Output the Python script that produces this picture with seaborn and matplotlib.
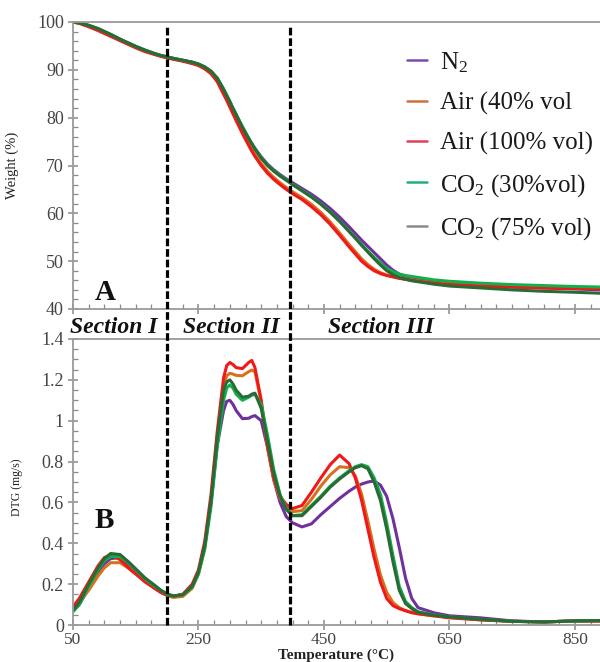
import numpy as np
import pandas as pd
import matplotlib
matplotlib.use("Agg")
import matplotlib.pyplot as plt
import seaborn as sns
from matplotlib.ticker import FixedLocator, MultipleLocator, FuncFormatter

# ---------------- data ----------------
temperature = [50, 60, 75, 90, 100, 110, 125, 140, 150, 165, 180, 190, 200, 210, 225,
               240, 250, 260, 270, 280, 290, 295, 300, 305, 310, 320, 330, 335, 340, 350,
               360, 370, 380, 390, 400, 415, 430, 445, 460, 475, 490, 500, 510, 520, 530,
               540, 550, 560, 570, 580, 590, 600, 625, 650, 700, 750, 800, 850, 890]

series_names = ["N$_2$", "Air (40% vol", "Air (100% vol)", "CO$_2$ (30%vol)", "CO$_2$ (75% vol)"]

weight_n2 = [100.0, 99.8, 99.3, 98.6, 98.0, 97.4, 96.4, 95.5, 94.9, 94.1, 93.4, 93.0, 92.7, 92.4, 92.0,
             91.6, 91.2, 90.6, 89.7, 88.2, 85.9, 84.6, 83.3, 81.9, 80.6, 78.0, 75.7, 74.6, 73.6, 71.8,
             70.3, 69.1, 68.1, 67.2, 66.4, 65.2, 64.0, 62.6, 61.0, 59.2, 57.2, 55.8, 54.4, 53.1, 51.8,
             50.5, 49.2, 48.1, 47.3, 46.8, 46.5, 46.2, 45.7, 45.3, 44.9, 44.6, 44.4, 44.2, 44.0]
weight_air40 = [100.0, 99.8, 99.2, 98.4, 97.8, 97.2, 96.2, 95.3, 94.7, 93.9, 93.3, 92.9, 92.6, 92.3, 91.9,
                91.4, 91.0, 90.3, 89.3, 87.7, 85.2, 83.9, 82.5, 81.1, 79.7, 77.0, 74.5, 73.4, 72.3, 70.4,
                68.8, 67.5, 66.4, 65.4, 64.5, 63.3, 61.9, 60.2, 58.2, 55.9, 53.5, 52.0, 50.5, 49.3, 48.3,
                47.6, 47.1, 46.8, 46.5, 46.3, 46.1, 45.9, 45.5, 45.2, 44.9, 44.7, 44.6, 44.5, 44.4]
weight_air100 = [100.0, 99.7, 99.0, 98.2, 97.6, 97.0, 96.1, 95.2, 94.6, 93.8, 93.2, 92.8, 92.5, 92.2, 91.8,
                 91.3, 90.9, 90.2, 89.2, 87.5, 84.9, 83.6, 82.2, 80.8, 79.4, 76.7, 74.2, 73.0, 71.9, 70.0,
                 68.4, 67.1, 66.0, 65.0, 64.1, 62.9, 61.4, 59.7, 57.7, 55.4, 53.0, 51.5, 50.0, 48.9, 48.0,
                 47.4, 47.0, 46.7, 46.4, 46.2, 46.0, 45.8, 45.4, 45.1, 44.8, 44.6, 44.4, 44.3, 44.2]
weight_co2_30 = [100.0, 99.8, 99.3, 98.6, 98.0, 97.4, 96.4, 95.5, 94.9, 94.1, 93.4, 93.0, 92.7, 92.4, 92.0,
                 91.6, 91.2, 90.6, 89.7, 88.3, 86.0, 84.7, 83.4, 82.0, 80.7, 78.1, 75.7, 74.6, 73.5, 71.6,
                 70.1, 68.9, 67.9, 67.0, 66.1, 64.8, 63.5, 62.0, 60.3, 58.4, 56.3, 54.9, 53.5, 52.1, 50.8,
                 49.6, 48.5, 47.8, 47.3, 47.0, 46.8, 46.6, 46.1, 45.8, 45.4, 45.1, 44.9, 44.7, 44.6]
weight_co2_75 = [100.0, 99.8, 99.3, 98.6, 98.0, 97.4, 96.4, 95.5, 94.9, 94.1, 93.4, 93.0, 92.7, 92.4, 92.0,
                 91.6, 91.2, 90.6, 89.7, 88.2, 85.9, 84.6, 83.3, 81.9, 80.6, 78.0, 75.6, 74.5, 73.4, 71.5,
                 70.0, 68.8, 67.8, 66.9, 66.0, 64.7, 63.4, 61.9, 60.2, 58.3, 56.2, 54.8, 53.3, 51.9, 50.5,
                 49.2, 48.0, 47.2, 46.6, 46.2, 45.9, 45.7, 45.2, 44.8, 44.4, 44.0, 43.7, 43.5, 43.3]

dtg_n2 = [0.07, 0.10, 0.18, 0.26, 0.30, 0.325, 0.33, 0.295, 0.265, 0.22, 0.18, 0.16, 0.145, 0.14, 0.15,
          0.19, 0.26, 0.39, 0.60, 0.88, 1.05, 1.095, 1.10, 1.08, 1.05, 1.01, 1.012, 1.02, 1.025, 1.0,
          0.87, 0.71, 0.60, 0.53, 0.50, 0.48, 0.495, 0.54, 0.58, 0.62, 0.655, 0.675, 0.69, 0.70, 0.705,
          0.685, 0.63, 0.52, 0.38, 0.23, 0.13, 0.085, 0.06, 0.045, 0.035, 0.02, 0.015, 0.02, 0.02]
dtg_air40 = [0.08, 0.11, 0.17, 0.24, 0.28, 0.305, 0.305, 0.275, 0.25, 0.215, 0.18, 0.16, 0.145, 0.135, 0.14,
             0.18, 0.25, 0.38, 0.61, 0.92, 1.17, 1.22, 1.232, 1.228, 1.222, 1.22, 1.24, 1.248, 1.24, 1.09,
             0.87, 0.71, 0.62, 0.575, 0.555, 0.56, 0.615, 0.68, 0.735, 0.775, 0.77, 0.73, 0.64, 0.51, 0.37,
             0.245, 0.16, 0.11, 0.085, 0.07, 0.062, 0.055, 0.045, 0.038, 0.025, 0.018, 0.015, 0.02, 0.02]
dtg_air100 = [0.09, 0.13, 0.21, 0.29, 0.33, 0.343, 0.32, 0.275, 0.25, 0.21, 0.18, 0.16, 0.147, 0.14, 0.15,
              0.20, 0.27, 0.41, 0.64, 0.95, 1.21, 1.27, 1.285, 1.275, 1.26, 1.255, 1.285, 1.295, 1.26, 1.10,
              0.88, 0.72, 0.63, 0.59, 0.57, 0.585, 0.65, 0.72, 0.785, 0.832, 0.79, 0.72, 0.61, 0.47, 0.33,
              0.21, 0.13, 0.095, 0.08, 0.07, 0.06, 0.055, 0.045, 0.035, 0.025, 0.018, 0.015, 0.02, 0.02]
dtg_co2_30 = [0.065, 0.10, 0.19, 0.27, 0.315, 0.335, 0.335, 0.30, 0.27, 0.225, 0.19, 0.17, 0.15, 0.142, 0.148,
              0.185, 0.25, 0.37, 0.58, 0.88, 1.10, 1.16, 1.175, 1.16, 1.13, 1.10, 1.115, 1.125, 1.13, 1.08,
              0.93, 0.76, 0.64, 0.57, 0.535, 0.54, 0.585, 0.63, 0.68, 0.72, 0.755, 0.775, 0.785, 0.775, 0.72,
              0.64, 0.50, 0.34, 0.19, 0.115, 0.085, 0.065, 0.05, 0.04, 0.028, 0.018, 0.015, 0.02, 0.022]
dtg_co2_75 = [0.07, 0.11, 0.20, 0.28, 0.325, 0.35, 0.345, 0.305, 0.275, 0.23, 0.195, 0.17, 0.152, 0.143, 0.148,
              0.19, 0.26, 0.39, 0.61, 0.92, 1.15, 1.19, 1.20, 1.18, 1.15, 1.115, 1.12, 1.13, 1.135, 1.06,
              0.90, 0.74, 0.63, 0.565, 0.535, 0.535, 0.58, 0.625, 0.675, 0.715, 0.75, 0.77, 0.78, 0.765, 0.70,
              0.61, 0.47, 0.31, 0.17, 0.105, 0.08, 0.062, 0.048, 0.04, 0.028, 0.018, 0.015, 0.02, 0.022]

section_bounds = [200, 396]
section_labels = ["Section I", "Section II", "Section III"]
x_major_ticks = [50, 250, 450, 650, 850]

line_colors = ["#7030A0", "#D9701E", "#F01818", "#12B04C", "#2A6A35"]
legend_colors = ["#7A4BA8", "#D0703A", "#E0405A", "#20B080", "#8A8A8A"]

weights = [weight_n2, weight_air40, weight_air100, weight_co2_30, weight_co2_75]
dtgs = [dtg_n2, dtg_air40, dtg_air100, dtg_co2_30, dtg_co2_75]

# ---------------- style ----------------
sns.set_theme(style="white")
plt.rcParams["font.family"] = ["Liberation Serif", "DejaVu Serif"]
plt.rcParams["mathtext.fontset"] = "custom"
plt.rcParams["mathtext.rm"] = "Liberation Serif"
plt.rcParams["mathtext.it"] = "Liberation Serif:italic"
plt.rcParams["mathtext.bf"] = "Liberation Serif:bold"

W, H = 600, 662
fig = plt.figure(figsize=(W / 100, H / 100), dpi=100)
ax1 = fig.add_axes([73 / W, 1 - 309 / H, 527 / W, 287 / H])
ax2 = fig.add_axes([73 / W, 1 - 625 / H, 527 / W, 286 / H])

draw_order = [0, 3, 4, 1, 2]
handles = {}
for i in draw_order:
    sns.lineplot(x=temperature, y=weights[i], ax=ax1, color=line_colors[i], lw=2.2,
                 estimator=None, legend=False, zorder=2 + i * 0.1)
    handles[i] = ax1.lines[-1]
    sns.lineplot(x=temperature, y=dtgs[i], ax=ax2, color=line_colors[i], lw=2.2,
                 estimator=None, legend=False, zorder=2 + i * 0.1)

for ax in (ax1, ax2):
    ax.set_xlim(50, 890)
    ax.xaxis.set_major_locator(FixedLocator(x_major_ticks))
    ax.xaxis.set_minor_locator(FixedLocator(np.arange(50, 900, 25)))
    ax.spines["right"].set_visible(False)
    for s in ("left", "top", "bottom"):
        ax.spines[s].set_color("#9a9a9a")
        ax.spines[s].set_linewidth(1.3)
    ax.tick_params(which="major", direction="inout", length=7, width=1.1, color="#8a8a8a",
                   labelsize=13, labelcolor="#444444", pad=3)
    ax.tick_params(which="minor", direction="in", length=3.5, width=0.9, color="#8a8a8a")
    ax.tick_params(axis="x", which="both", top=False, bottom=True)
    ax.tick_params(axis="y", which="both", right=False, left=True)
    ax.set_xlabel("")
    ax.set_ylabel("")

ax1.set_ylim(40, 100)
ax1.yaxis.set_major_locator(MultipleLocator(10))
ax1.yaxis.set_minor_locator(MultipleLocator(2))
ax1.tick_params(axis="x", labelbottom=False)

ax2.set_ylim(0, 1.4)
ax2.yaxis.set_major_locator(MultipleLocator(0.2))
ax2.yaxis.set_minor_locator(MultipleLocator(0.05))
ax2.yaxis.set_major_formatter(FuncFormatter(lambda v, p: f"{v:g}"))
ax2.tick_params(axis="x", which="major", pad=1.5, labelsize=12.5)

ax1.set_ylabel("Weight (%)", fontsize=10.5, color="#222222")
ax1.yaxis.set_label_coords(-0.102, 0.5)
ax2.set_ylabel("DTG (mg/s)", fontsize=8.5, color="#222222")
ax2.yaxis.set_label_coords(-0.095, 0.483)
ax2.set_xlabel("Temperature (°C)", fontsize=11, fontweight="bold", color="#222222")
ax2.xaxis.set_label_coords(0.5, -0.083)

# section dividers
for xb in section_bounds:
    ax1.axvline(xb, ymin=0, ymax=0.99, color="black", lw=2.3, ls=(0, (2.4, 0.9)), zorder=6)
    ax2.axvline(xb, ymin=0, ymax=1.105, color="black", lw=2.3, ls=(0, (2.4, 0.9)),
                zorder=6, clip_on=False)

for lab, xc in zip(section_labels, [114, 231, 381]):
    fig.text(xc / W, 1 - 327 / H, lab, ha="center", va="center", fontsize=17,
             fontstyle="italic", fontweight="bold", color="#111111")

fig.text(105 / W, 1 - 300 / H, "A", ha="center", va="baseline", fontsize=21,
         fontweight="bold", color="#111111")
fig.text(104 / W, 1 - 528 / H, "B", ha="center", va="baseline", fontsize=21,
         fontweight="bold", color="#111111")

leg = ax1.legend([handles[i] for i in range(5)], series_names, loc="upper left",
                 bbox_to_anchor=(407 / W, 1 - 50 / H), bbox_transform=fig.transFigure,
                 frameon=False, fontsize=18, handlelength=0.8, handletextpad=0.5,
                 labelspacing=0.68, borderpad=0, borderaxespad=0)
for ln, c in zip(leg.get_lines(), legend_colors):
    ln.set_color(c)
    ln.set_linewidth(1.8)
for t in leg.get_texts():
    t.set_color("#1a1a1a")

fig.savefig("out.png", dpi=100, facecolor="white")
